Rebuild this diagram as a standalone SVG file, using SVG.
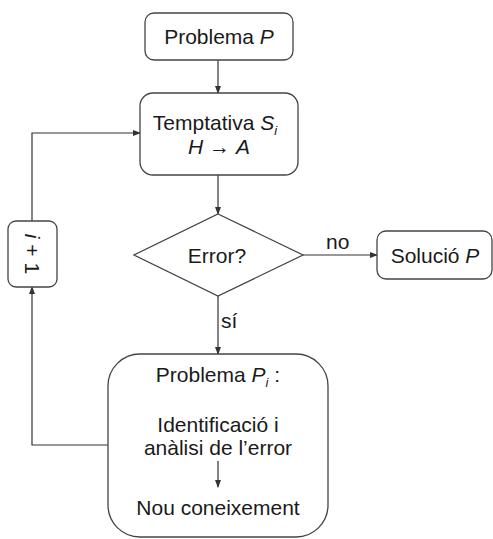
<svg xmlns="http://www.w3.org/2000/svg" width="493" height="539" viewBox="0 0 493 539">
<style>
.box{fill:#fff;stroke:#444;stroke-width:1.3}
.ln{fill:none;stroke:#333;stroke-width:1.2}
text{font-family:"Liberation Sans",Arial,sans-serif;font-size:21px;fill:#1a1a1a}
.c{text-anchor:middle}
.it{font-style:italic}
.sub{font-size:13px;font-style:italic}
</style>
<defs>
<marker id="ah" markerWidth="8" markerHeight="6" refX="7" refY="3" orient="auto" markerUnits="userSpaceOnUse">
<path d="M0,0 L8,3 L0,6 z" fill="#333"/>
</marker>
</defs>
<rect width="493" height="539" fill="#fff"/>
<g id="connectors">
<line class="ln" x1="218" y1="60" x2="218" y2="93" marker-end="url(#ah)"/>
<line class="ln" x1="218" y1="175" x2="218" y2="214" marker-end="url(#ah)"/>
<line class="ln" x1="303" y1="255" x2="377" y2="255" marker-end="url(#ah)"/>
<line class="ln" x1="218" y1="296" x2="218" y2="354" marker-end="url(#ah)"/>
<polyline class="ln" points="108,445 32,445 32,287" marker-end="url(#ah)"/>
<polyline class="ln" points="32,221 32,133 140,133" marker-end="url(#ah)"/>
<text x="326" y="249">no</text>
<text x="221" y="328">sí</text>
</g>
<g id="problema">
<rect class="box" x="145" y="13" width="148" height="47" rx="9"/>
<text x="219" y="44" class="c">Problema <tspan class="it">P</tspan></text>
</g>
<g id="temptativa">
<rect class="box" x="140" y="93" width="158" height="82" rx="13"/>
<text x="215" y="130" class="c">Temptativa <tspan class="it">S</tspan><tspan class="sub" dy="5">i</tspan></text>
<text x="219" y="154" class="c"><tspan class="it">H</tspan> → <tspan class="it">A</tspan></text>
</g>
<g id="error">
<polygon class="box" points="218,214 303,255 218,296 134,255"/>
<text x="217" y="263" class="c">Error?</text>
</g>
<g id="solucio">
<rect class="box" x="377" y="231" width="115" height="48" rx="9"/>
<text x="435" y="263" class="c">Solució <tspan class="it">P</tspan></text>
</g>
<g id="problemaPi">
<rect class="box" x="108" y="354" width="220" height="183" rx="32"/>
<text x="218" y="382" class="c">Problema <tspan class="it">P</tspan><tspan class="sub" dy="5">i</tspan><tspan dy="-5"> :</tspan></text>
<text x="218" y="432" class="c">Identificació i</text>
<text x="218" y="455" class="c">anàlisi de l’error</text>
<line class="ln" x1="218" y1="461" x2="218" y2="487" marker-end="url(#ah)"/>
<text x="218" y="515" class="c">Nou coneixement</text>
</g>
<g id="incr">
<rect class="box" x="8" y="221" width="49" height="66" rx="8"/>
<text transform="translate(25,254) rotate(90)" class="c"><tspan class="it">i</tspan> + 1</text>
</g>
</svg>
